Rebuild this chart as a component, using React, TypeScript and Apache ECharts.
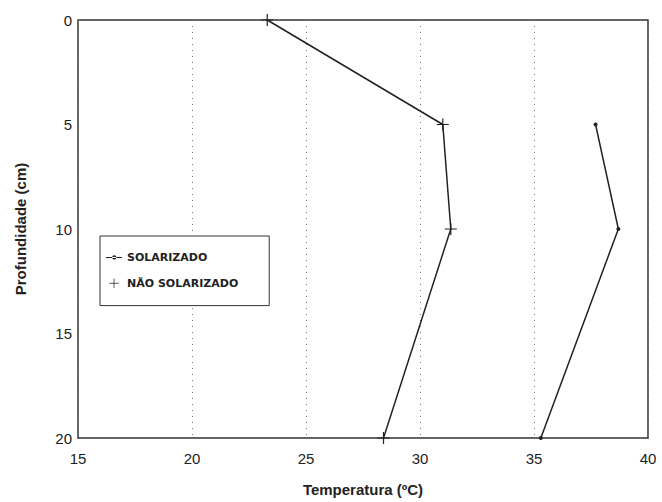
import React, { useEffect, useRef } from "react";
import * as echarts from "echarts";

const depths = [0, 5, 10, 20];
const naoSolarizado = [23.3, 31.0, 31.35, 28.4];
const solarizadoDepths = [5, 10, 20];
const solarizado = [37.7, 38.7, 35.3];
const xTicks = [15, 20, 25, 30, 35, 40];
const yTicks = [0, 5, 10, 15, 20];

const FONT = "'Liberation Sans', Arial, sans-serif";

export default function App() {
  const ref = useRef<HTMLDivElement>(null);
  useEffect(() => {
    if (!ref.current) return;
    const chart = echarts.init(ref.current, undefined, { renderer: "svg" });
    chart.setOption({
      animation: false,
      backgroundColor: "#ffffff",
      grid: {
        left: 78,
        right: 14,
        top: 20,
        bottom: 63,
        show: true,
        borderColor: "#333",
        borderWidth: 1.5,
        backgroundColor: "transparent",
      },
      legend: {
        orient: "vertical",
        left: 100,
        top: 236,
        backgroundColor: "#fff",
        borderColor: "#333",
        borderWidth: 1,
        padding: [16, 31, 15, 6],
        itemGap: 13,
        itemWidth: 16,
        itemHeight: 12,
        textStyle: { fontFamily: "'DejaVu Sans', sans-serif", fontSize: 11, fontWeight: "bold", color: "#222" },
        data: [
          {
            name: "SOLARIZADO",
            icon: "path://M2,5.6L14,5.6L14,6.4L2,6.4Z M6.6,6 a1.6,1.6 0 1,0 3.2,0 a1.6,1.6 0 1,0 -3.2,0Z",
            itemStyle: { color: "#222", borderColor: "#222", borderWidth: 0 },
          },
          {
            name: "NÃO SOLARIZADO",
            itemStyle: { color: "none", borderColor: "#333", borderWidth: 0.8 },
            lineStyle: { width: 0, opacity: 0 },
          },
        ],
      },
      xAxis: {
        type: "value",
        min: xTicks[0],
        max: xTicks[xTicks.length - 1],
        interval: 5,
        name: "Temperatura (ºC)",
        nameLocation: "middle",
        nameGap: 44,
        nameTextStyle: { fontFamily: FONT, fontSize: 15, fontWeight: "bold", color: "#222" },
        axisLine: { show: false },
        axisTick: { show: false },
        axisLabel: { fontFamily: FONT, fontSize: 15, color: "#222", margin: 13 },
        splitLine: { show: true, lineStyle: { type: [1, 5], color: "#777", width: 1 } },
      },
      yAxis: {
        type: "value",
        inverse: true,
        min: yTicks[0],
        max: yTicks[yTicks.length - 1],
        interval: 5,
        name: "Profundidade (cm)",
        nameLocation: "middle",
        nameGap: 50,
        nameTextStyle: { fontFamily: FONT, fontSize: 15, fontWeight: "bold", color: "#222" },
        axisLine: { show: false },
        axisTick: { show: false },
        axisLabel: { fontFamily: FONT, fontSize: 15, color: "#222", margin: 6 },
        splitLine: { show: false },
      },
      series: [
        {
          name: "SOLARIZADO",
          type: "line",
          data: solarizado.map((t, i) => [t, solarizadoDepths[i]]),
          symbol: "circle",
          symbolSize: 4,
          lineStyle: { color: "#222", width: 1.5 },
          itemStyle: { color: "#222" },
        },
        {
          name: "NÃO SOLARIZADO",
          type: "line",
          data: naoSolarizado.map((t, i) => [t, depths[i]]),
          symbol: "path://M0,5L10,5M5,0L5,10",
          symbolSize: 12,
          lineStyle: { color: "#222", width: 1.5 },
          itemStyle: { color: "none", borderColor: "#222", borderWidth: 1.2 },
        },
      ],
    });
    return () => chart.dispose();
  }, []);
  return <div ref={ref} style={{ width: 662, height: 502, position: "absolute", left: 0, top: 0 }} />;
}
